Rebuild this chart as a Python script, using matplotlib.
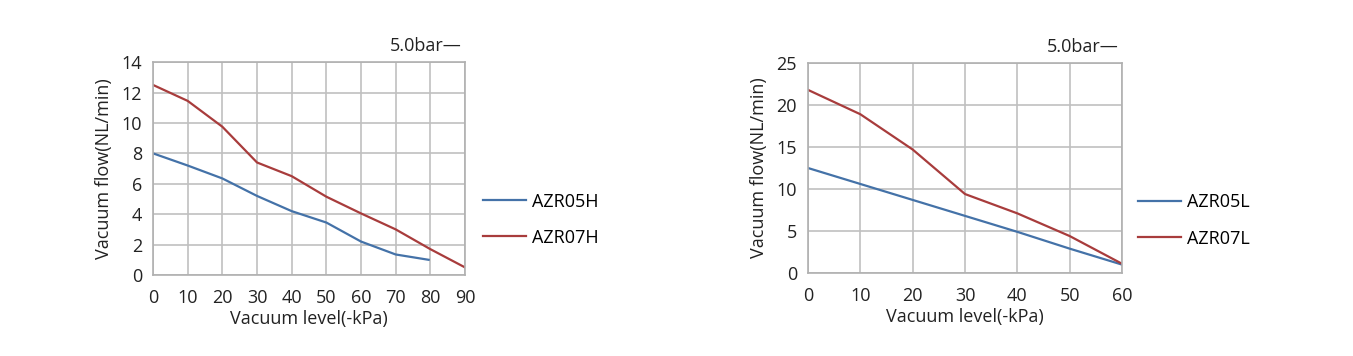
import matplotlib.pyplot as plt

plt.rcParams['font.family'] = ['Open Sans', 'DejaVu Sans']

# left chart
x_h = [0, 10, 20, 30, 40, 50, 60, 70, 79.5]
azr05h = [8.0, 7.2, 6.35, 5.2, 4.2, 3.45, 2.2, 1.35, 1.0]
x_h7 = [0, 10, 20, 30, 40, 50, 60, 70, 80, 90]
azr07h = [12.5, 11.45, 9.75, 7.4, 6.5, 5.15, 4.05, 3.0, 1.7, 0.5]

# right chart
x_l = [0, 10, 20, 30, 40, 50, 60]
azr05l = [12.5, 10.6, 8.7, 6.8, 4.9, 2.9, 1.0]
azr07l = [21.8, 18.9, 14.7, 9.4, 7.1, 4.4, 1.1]

blue = '#4472a8'
red = '#a83c3c'
grid_c = '#c0c0c0'
txt = '#222222'
fs = 13

fig = plt.figure(figsize=(13.53, 3.56), dpi=100)


def setup(ax, xmax, xstep, ymax, ystep):
    ax.set_xlim(0, xmax)
    ax.set_ylim(0, ymax)
    ax.set_xticks(range(0, xmax + 1, xstep))
    ax.set_yticks(range(0, ymax + 1, ystep))
    ax.grid(True, color=grid_c, linewidth=1.2)
    ax.set_axisbelow(True)
    for s in ax.spines.values():
        s.set_color('#b0b0b0')
        s.set_linewidth(1.2)
    ax.tick_params(length=0, labelsize=fs, colors=txt)
    ax.tick_params(axis='x', pad=10)
    ax.tick_params(axis='y', pad=8)
    ax.set_xlabel('Vacuum level(-kPa)', fontsize=fs, color=txt, labelpad=2)
    ax.set_ylabel('Vacuum flow(NL/min)', fontsize=fs, color=txt, labelpad=6)
    ax.text(0.99, 1.035, '5.0bar—', transform=ax.transAxes, ha='right',
            va='bottom', fontsize=fs, color=txt)


ax1 = fig.add_axes([0.1131, 0.2275, 0.2306, 0.598])
setup(ax1, 90, 10, 14, 2)
ax1.plot(x_h, azr05h, color=blue, lw=1.6, label='AZR05H')
ax1.plot(x_h7, azr07h, color=red, lw=1.6, label='AZR07H')
ax1.legend(loc='center left', bbox_to_anchor=(1.005, 0.26), frameon=False,
           fontsize=fs, handlelength=2.4, labelspacing=1.0, handletextpad=0.35)

ax2 = fig.add_axes([0.5972, 0.2331, 0.2321, 0.5899])
setup(ax2, 60, 10, 25, 5)
ax2.plot(x_l, azr05l, color=blue, lw=1.6, label='AZR05L')
ax2.plot(x_l, azr07l, color=red, lw=1.6, label='AZR07L')
ax2.legend(loc='center left', bbox_to_anchor=(0.998, 0.25), frameon=False,
           fontsize=fs, handlelength=2.4, labelspacing=1.0, handletextpad=0.35)

fig.savefig('out.png', dpi=100)
